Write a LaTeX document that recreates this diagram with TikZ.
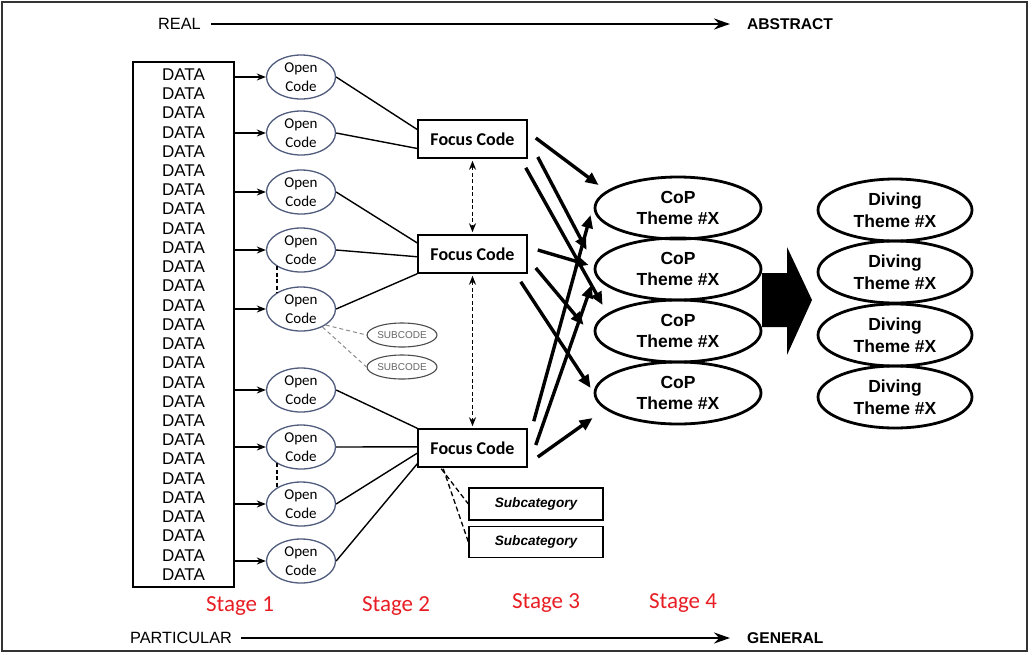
\documentclass[tikz,border=0pt]{standalone}
\usepackage{fontspec}
\setmainfont{Liberation Sans}
\newfontfamily\calibrifont{Carlito}
\usetikzlibrary{arrows.meta,calc,shapes.geometric}

\definecolor{ocblue}{RGB}{80,92,125}
\definecolor{stagered}{RGB}{232,30,36}

\tikzset{
  txt/.style={inner sep=0pt, font=\fontsize{16.3}{18}\selectfont},
  txtbold/.style={inner sep=0pt, font=\bfseries\fontsize{15.6}{18}\selectfont},
  axis/.style={line width=2.4pt, -{Stealth[length=16pt,width=11pt]}},
  databox/.style={draw, line width=1.7pt, minimum width=101pt, minimum height=525pt,
    align=center, inner sep=0pt, font=\fontsize{17}{19.23}\selectfont},
  opencode/.style={ellipse, draw=ocblue, line width=1.3pt, minimum width=69pt,
    minimum height=44pt, inner sep=0pt, align=center,
    font=\calibrifont\fontsize{15}{19}\selectfont},
  focus/.style={draw, line width=1.5pt, minimum width=109pt, minimum height=38pt,
    inner sep=0pt, font=\calibrifont\bfseries\fontsize{18}{20}\selectfont},
  subcode/.style={ellipse, draw=black!70, line width=1.1pt, minimum width=67pt,
    minimum height=24pt, inner sep=0pt, text=black!60, font=\fontsize{10}{12}\selectfont},
  subcat/.style={draw, line width=1.3pt, minimum width=134pt, minimum height=32pt,
    inner sep=0pt, font=\bfseries\itshape\fontsize{13.6}{15}\selectfont},
  theme/.style={ellipse, draw, line width=2.8pt, minimum height=62pt, inner sep=0pt,
    align=center, font=\bfseries\fontsize{17.5}{21.5}\selectfont},
  feed/.style={line width=1.4pt, -{Stealth[length=9pt,width=7pt]}},
  link/.style={line width=1.4pt},
  peer/.style={line width=1.4pt, dash pattern=on 4pt off 2.5pt,
    {Stealth[length=9pt,width=7pt]}-{Stealth[length=9pt,width=7pt]},
    shorten <=2pt, shorten >=2pt},
  subline/.style={line width=1pt, black!45, dash pattern=on 4pt off 3pt},
  catline/.style={line width=1.3pt, dash pattern=on 5pt off 3pt},
  boldarrow/.style={line width=3.4pt, -{Triangle[length=13pt,width=11pt]}},
  stage/.style={text=stagered, inner sep=0pt, font=\calibrifont\fontsize{23}{25}\selectfont}
}

\begin{document}
\begin{tikzpicture}[x=1pt,y=-1pt]
\useasboundingbox (0,0) rectangle (1032,654);
\fill[white] (0,0) rectangle (1032,654);
\draw[line width=2pt, black!80] (2,2) rectangle (1027,651);

% axes
\node[txt, anchor=west] (real) at (158,24) {REAL};
\node[txtbold, anchor=west] (abstract) at (747,24) {ABSTRACT};
\draw[axis] ([xshift=10pt]real.east) -- ([xshift=-17pt]abstract.west);
\node[txt, anchor=west] (particular) at (130,638) {PARTICULAR};
\node[txtbold, anchor=west] (general) at (747,638) {GENERAL};
\draw[axis] ([xshift=9pt]particular.east) -- ([xshift=-17pt]general.west);

% raw data
\node[databox] (data) at (183.5,324.5) {DATA\\DATA\\DATA\\DATA\\DATA\\DATA\\DATA\\DATA\\DATA\\
DATA\\DATA\\DATA\\DATA\\DATA\\DATA\\DATA\\DATA\\DATA\\DATA\\DATA\\DATA\\DATA\\DATA\\DATA\\
DATA\\DATA\\DATA};

% open codes
\foreach \i/\y in {1/77,2/133,3/192,4/250,5/309,6/390,7/447,8/504,9/561}{
  \node[opencode] (oc\i) at (301,\y) {Open\\Code};
  \draw[feed] (data.east |- oc\i) -- (oc\i.west);
}
\draw[link, dash pattern=on 4pt off 2.5pt] ($(oc4.center)+(-24,16)$) -- ($(oc5.center)+(-24,-16)$);
\draw[link, dash pattern=on 4pt off 2.5pt] ($(oc7.center)+(-24,16)$) -- ($(oc8.center)+(-24,-16)$);

% sub codes
\node[subcode] (sc1) at (402,335) {SUBCODE};
\node[subcode] (sc2) at (402,367) {SUBCODE};
\draw[subline] (oc5.-33) -- (sc1.west);
\draw[subline] (oc5.-40) -- (sc2.west);

% focus codes
\node[focus] (fc1) at (472.5,139) {Focus Code};
\node[focus] (fc2) at (472.5,254) {Focus Code};
\node[focus] (fc3) at (472.5,448) {Focus Code};

\draw[link] (oc1.east) -- ($(fc1.north west)!0.26!(fc1.south west)$);
\draw[link] (oc2.east) -- ($(fc1.north west)!0.74!(fc1.south west)$);
\draw[link] (oc3.east) -- ($(fc2.north west)!0.22!(fc2.south west)$);
\draw[link] (oc4.east) -- ($(fc2.north west)!0.57!(fc2.south west)$);
\draw[link] (oc5.east) -- (fc2.south west);
\draw[link] (oc6.east) -- (fc3.north west);
\draw[link] (oc7.east) -- ($(fc3.north west)!0.47!(fc3.south west)$);
\draw[link] (oc8.east) -- ($(fc3.north west)!0.63!(fc3.south west)$);
\draw[link] (oc9.east) -- ($(fc3.north west)!0.9!(fc3.south west)$);

\draw[peer] (fc1.south) -- (fc2.north);
\draw[peer] (fc2.south) -- (fc3.north);

% sub categories
\node[subcat] (sub1) at (536,504) {Subcategory};
\node[subcat, minimum height=31pt] (sub2) at (536,542) {Subcategory};
\draw[catline] ($(fc3.south west)+(24,1)$) -- (sub1.west);
\draw[catline] ($(fc3.south west)+(26,1)$) -- (sub2.west);

% CoP themes
\foreach \i/\y in {1/208,2/269,3/331,4/393}{
  \node[theme, minimum width=166pt] (cop\i) at (678,\y) {CoP\\Theme \#X};
}

% focus codes to themes
\draw[boldarrow] ($(fc1.east)+(8,-1)$) -- ($(cop1.west)+(5,-23)$);
\draw[boldarrow] ($(fc1.east)+(10,18)$) -- ($(cop2.west)+(-7,-19)$);
\draw[boldarrow] ($(fc1.south east)+(-2,9)$) -- ($(cop3.west)+(9,-26)$);
\draw[boldarrow] ($(fc2.east)+(10,-4)$) -- ($(cop2.west)+(-5,-4)$);
\draw[boldarrow] ($(fc2.east)+(8,14)$) -- ($(cop3.west)+(-10,-6)$);
\draw[boldarrow] ($(fc2.south east)+(-7,8)$) -- ($(cop4.west)+(-3,-5)$);
\draw[boldarrow] ($(fc3.north east)+(6,-7)$) -- ($(cop1.west)+(-3,7)$);
\draw[boldarrow] ($(fc3.east)+(8,-3)$) -- ($(cop2.west)+(-2,16)$);
\draw[boldarrow] ($(fc3.east)+(10,9)$) -- ($(cop4.west)+(-1,25)$);

% block arrow
\fill (762,273) -- (787,273) -- (787,247) -- (812,300) -- (787,355) -- (787,327) -- (762,327) -- cycle;

% diving themes
\foreach \i/\y in {1/210,2/272,3/335,4/397}{
  \node[theme, minimum width=154pt] (dv\i) at (895,\y) {Diving\\Theme \#X};
}

% stages
\node[stage] (st1) at (240,606) {Stage 1};
\node[stage] (st2) at (396,606) {Stage 2};
\node[stage] (st3) at (546,603) {Stage 3};
\node[stage] (st4) at (683,603) {Stage 4};
\end{tikzpicture}
\end{document}
